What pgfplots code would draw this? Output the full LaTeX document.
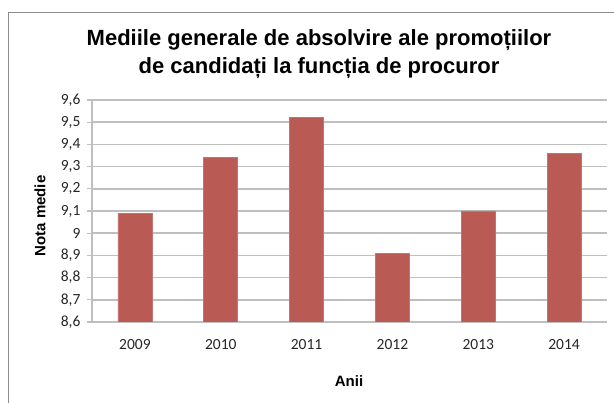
\documentclass[border=0pt]{standalone}
\usepackage{pgfplots}
\pgfplotsset{compat=1.18}
\usepackage{fontspec}
\setmainfont{Liberation Sans}
\newfontfamily\carlitofont{Carlito}
\definecolor{barred}{HTML}{B95B54}
\definecolor{gridgray}{HTML}{BFBFBF}
\definecolor{framegray}{HTML}{8C8C8C}
\begin{document}
\begin{tikzpicture}[x=1pt,y=1pt]
\useasboundingbox (0,0) rectangle (614,-403);
\draw[framegray, line width=1pt] (8.5,-403) -- (8.5,-12.5) -- (614,-12.5);
\begin{axis}[
  at={(92pt,-322pt)}, anchor=south west,
  scale only axis, width=515pt, height=222pt,
  xmin=-0.5, xmax=5.5, ymin=8.6, ymax=9.6,
  xtick={0,1,2,3,4,5},
  xticklabels={2009,2010,2011,2012,2013,2014},
  ytick={8.6,8.7,8.8,8.9,9.0,9.1,9.2,9.3,9.4,9.5,9.6},
  /pgf/number format/fixed,
  /pgf/number format/precision=1,
  /pgf/number format/use comma,
  /pgf/number format/assume math mode=true,
  ticklabel style={font=\fontsize{15.5}{17}\selectfont\carlitofont, text=black!85},
  xtick style={draw=none},
  ytick style={draw=gridgray, line width=1.2pt},
  tick align=outside, major tick length=5pt,
  ymajorgrids, grid style={gridgray, line width=1.5pt},
  axis x line*=bottom, axis y line*=left,
  axis line style={gridgray, line width=1.2pt, -},
  xticklabel style={yshift=-9pt},
  yticklabel style={xshift=-3pt},
]
\addplot[ybar, bar width=34pt, fill=barred, draw=barred!85!white, line width=0.6pt] coordinates {
  (0,9.09) (1,9.34) (2,9.52) (3,8.91) (4,9.10) (5,9.36)
};
\end{axis}
\node[font=\bfseries\fontsize{22}{28}\selectfont, align=center] at (319,-54) {Mediile generale de absolvire ale promoțiilor\\de candidați la funcția de procuror};
\node[font=\bfseries\fontsize{15}{17}\selectfont, rotate=90] at (40,-216) {Nota medie};
\node[font=\bfseries\fontsize{15}{17}\selectfont] at (349,-381) {Anii};
\end{tikzpicture}
\end{document}
